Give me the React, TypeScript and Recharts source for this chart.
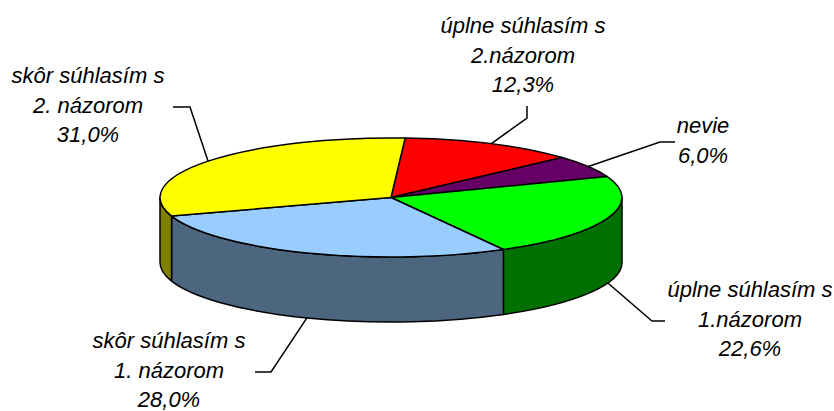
import React from 'react';
import { PieChart, Pie } from 'recharts';

const CATEGORIES = [
  'úplne súhlasím s\n2.názorom',
  'nevie',
  'úplne súhlasím s\n1.názorom',
  'skôr súhlasím s\n1. názorom',
  'skôr súhlasím s\n2. názorom',
];
const VALUES = [12.3, 6.0, 22.6, 28.0, 31.0];

const TOP_COLORS = [`#FF0000`, `#660066`, `#00FF00`, `#99CCFF`, `#FFFF00`];
const SIDE_COLORS = [`#800000`, `#330033`, `#007000`, `#4D6680`, `#808000`];

// where each label's leader line bends / ends and where the text sits
const LABEL_LAYOUT = [
  { elbow: [527, 118], end: [527, 106], x: 523, y: 33 },
  { elbow: [660, 142], end: [675, 142], x: 703, y: 133 },
  { elbow: [652, 321], end: [665, 321], x: 750, y: 297 },
  { elbow: [271, 372], end: [255, 372], x: 169, y: 348 },
  { elbow: [190, 107], end: [173, 107], x: 88, y: 83 },
];

const data = CATEGORIES.map((name, i) => ({ name, value: VALUES[i] }));

const RADIAN = Math.PI / 180;
const TILT = 59.5 / 231;
const DEPTH = 65;
const FONT = `'Liberation Sans', Arial, sans-serif`;

const frontRanges = (hi: number, lo: number) => {
  const out: number[][] = [];
  [[-540, -360], [-180, 0], [180, 360]].forEach(([a, b]) => {
    const s = Math.min(hi, b);
    const e = Math.max(lo, a);
    if (s > e) out.push([s, e]);
  });
  return out;
};

const renderSlice = (props) => {
  const { cx, cy, startAngle, endAngle, midAngle, outerRadius, index } = props;
  const rx = outerRadius;
  const ry = outerRadius * TILT;
  const pt = (a: number, dy = 0) =>
    `${cx + rx * Math.cos(a * RADIAN)},${cy - ry * Math.sin(a * RADIAN) + dy}`;
  const hi = Math.max(startAngle, endAngle);
  const lo = Math.min(startAngle, endAngle);
  const large = hi - lo > 180 ? 1 : 0;

  const walls = frontRanges(hi, lo).map(([s, e], k) => (
    <path
      key={k}
      d={`M${pt(s)}A${rx},${ry} 0 0 1 ${pt(e)}L${pt(e, DEPTH)}A${rx},${ry} 0 0 0 ${pt(s, DEPTH)}Z`}
      fill={SIDE_COLORS[index]}
      stroke="#000"
      strokeWidth={1.5}
      strokeLinejoin="round"
    />
  ));

  const sin = Math.sin(midAngle * RADIAN);
  const ax = cx + rx * Math.cos(midAngle * RADIAN);
  const ay = cy - ry * sin + (sin < 0 ? DEPTH : 0);
  const L = LABEL_LAYOUT[index];
  const lines = [
    ...CATEGORIES[index].split('\n'),
    `${VALUES[index].toFixed(1).replace('.', ',')}%`,
  ];

  return (
    <g>
      {walls}
      <path
        d={`M${cx},${cy}L${pt(hi)}A${rx},${ry} 0 ${large} 1 ${pt(lo)}Z`}
        fill={TOP_COLORS[index]}
        stroke="#000"
        strokeWidth={1.5}
        strokeLinejoin="round"
      />
      <path
        d={`M${ax},${ay}L${L.elbow[0]},${L.elbow[1]}L${L.end[0]},${L.end[1]}`}
        stroke="#000"
        strokeWidth={1.5}
        fill="none"
      />
      <text
        x={L.x}
        y={L.y}
        textAnchor="middle"
        fontFamily={FONT}
        fontStyle="italic"
        fontSize={22}
        fill="#000"
      >
        {lines.map((ln, k) => (
          <tspan key={k} x={L.x} dy={k === 0 ? 0 : 29.5}>
            {ln}
          </tspan>
        ))}
      </text>
    </g>
  );
};

const App: React.FC = () => {
  return (
    <div style={{ width: 834, height: 411, background: `#fff` }}>
      <style>{`body{margin:0}`}</style>
      <PieChart width={834} height={411} margin={{ top: 0, right: 0, bottom: 0, left: 0 }}>
        <Pie
          data={data}
          dataKey="value"
          cx={391}
          cy={197.5}
          outerRadius={231}
          startAngle={86.5}
          endAngle={-273.5}
          fill="none"
          stroke="none"
          label={renderSlice}
          labelLine={false}
          isAnimationActive={false}
        />
      </PieChart>
    </div>
  );
};

export default App;
